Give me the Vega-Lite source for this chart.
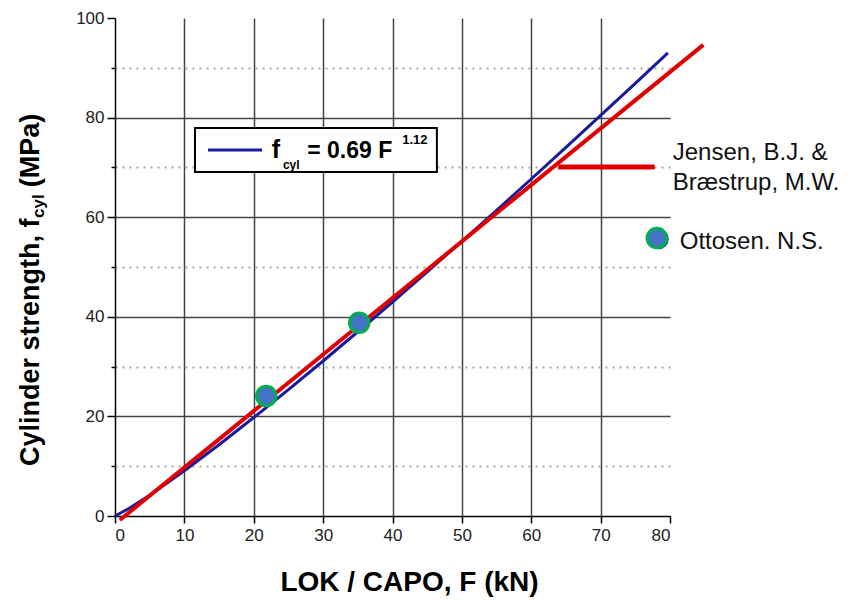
{
  "$schema": "https://vega.github.io/schema/vega-lite/v6.json",
  "width": 555,
  "height": 498,
  "autosize": "none",
  "padding": {"left": 115, "top": 18, "right": 185, "bottom": 84},
  "background": "white",
  "config": {"view": {"stroke": null}, "font": "Liberation Sans"},
  "datasets": {
    "fit": [
      {"F": 0, "fc": 0}, {"F": 2, "fc": 1.5}, {"F": 5, "fc": 4.18}, {"F": 10, "fc": 9.09},
      {"F": 15, "fc": 14.32}, {"F": 20, "fc": 19.77}, {"F": 25, "fc": 25.38}, {"F": 30, "fc": 31.13},
      {"F": 35, "fc": 37.0}, {"F": 40, "fc": 42.97}, {"F": 45, "fc": 49.03}, {"F": 50, "fc": 55.17},
      {"F": 55, "fc": 61.38}, {"F": 60, "fc": 67.67}, {"F": 65, "fc": 74.01}, {"F": 70, "fc": 80.43},
      {"F": 75, "fc": 86.89}, {"F": 79.7, "fc": 93.0}
    ],
    "jensen": [
      {"F": 0.7, "fc": -0.8}, {"F": 84.8, "fc": 94.6}
    ],
    "ottosen": [
      {"F": 21.8, "fc": 24.1}, {"F": 35.2, "fc": 38.8}
    ]
  },
  "layer": [
    {
      "data": {"name": "fit"},
      "mark": {"type": "line", "color": "#1a1a9c", "strokeWidth": 3},
      "encoding": {
        "x": {
          "field": "F", "type": "quantitative",
          "scale": {"domain": [0, 80], "nice": false, "zero": false},
          "axis": {
            "values": [0, 5, 10, 15, 20, 25, 30, 35, 40, 45, 50, 55, 60, 65, 70, 75, 80],
            "title": "LOK / CAPO, F (kN)",
            "titleFont": "Liberation Sans", "titleFontSize": 28, "titleFontWeight": "bold", "titleColor": "#000",
            "titleX": 294, "titleY": 74, "titleBaseline": "alphabetic", "titleAlign": "center",
            "labelExpr": "datum.value % 10 == 0 ? datum.label : ''",
            "labelFont": "Liberation Sans", "labelFontSize": 17, "labelColor": "#222",
            "labelPadding": 4,
            "tickSize": {"condition": {"test": "datum.value % 10 == 0", "value": 7}, "value": 5},
            "tickColor": "#000", "tickWidth": 1.5,
            "domainColor": "#000", "domainWidth": 1.5,
            "grid": true,
            "gridColor": {"condition": {"test": "datum.value % 10 == 0", "value": "#444"}, "value": "#a8a8a8"},
            "gridDash": {"condition": {"test": "datum.value % 10 == 0", "value": []}, "value": [2, 5]},
            "gridWidth": {"condition": {"test": "datum.value % 10 == 0", "value": 1.5}, "value": 2},
            "gridOpacity": {"condition": {"test": "datum.value == 0 || datum.value == 80", "value": 0}, "value": 1}
          }
        },
        "y": {
          "field": "fc", "type": "quantitative",
          "scale": {"domain": [0, 100], "nice": false, "zero": false},
          "axis": {
            "values": [0, 10, 20, 30, 40, 50, 60, 70, 80, 90, 100],
            "title": null,
            "labelExpr": "datum.value % 20 == 0 ? datum.label : ''",
            "labelFont": "Liberation Sans", "labelFontSize": 17, "labelColor": "#222",
            "labelPadding": 3,
            "tickSize": {"condition": {"test": "datum.value % 20 == 0", "value": 8}, "value": 4},
            "tickColor": "#000", "tickWidth": 1.5,
            "domainColor": "#000", "domainWidth": 1.5,
            "grid": true,
            "gridColor": {"condition": {"test": "datum.value % 20 == 0", "value": "#444"}, "value": "#a8a8a8"},
            "gridDash": {"condition": {"test": "datum.value % 20 == 0", "value": []}, "value": [2, 5]},
            "gridWidth": {"condition": {"test": "datum.value % 20 == 0", "value": 1.5}, "value": 2},
            "gridOpacity": {"condition": {"test": "datum.value == 0 || datum.value == 100", "value": 0}, "value": 1}
          }
        }
      }
    },
    {
      "data": {"name": "jensen"},
      "mark": {"type": "line", "color": "#e00000", "strokeWidth": 4},
      "encoding": {
        "x": {"field": "F", "type": "quantitative"},
        "y": {"field": "fc", "type": "quantitative"}
      }
    },
    {
      "data": {"name": "ottosen"},
      "mark": {"type": "point", "shape": "circle", "filled": true, "fill": "#4472c4", "stroke": "#00b050", "strokeWidth": 3, "size": 380, "opacity": 1},
      "encoding": {
        "x": {"field": "F", "type": "quantitative"},
        "y": {"field": "fc", "type": "quantitative"}
      }
    },
    {
      "data": {"values": [{}]},
      "mark": {"type": "rect", "fill": "white", "stroke": "#000", "strokeWidth": 2},
      "encoding": {
        "x": {"datum": 11.53, "type": "quantitative"},
        "x2": {"datum": 46.4},
        "y": {"datum": 77.9, "type": "quantitative"},
        "y2": {"datum": 69.1}
      }
    },
    {
      "data": {"values": [{}]},
      "mark": {"type": "rule", "color": "#1a1a9c", "strokeWidth": 3},
      "encoding": {
        "x": {"datum": 13.4, "type": "quantitative"},
        "x2": {"datum": 21.2},
        "y": {"datum": 73.5, "type": "quantitative"}
      }
    },
    {
      "data": {"values": [{}]},
      "mark": {"type": "text", "text": "f", "font": "Liberation Sans", "fontSize": 25, "fontWeight": "bold", "align": "left", "baseline": "alphabetic", "color": "#000"},
      "encoding": {"x": {"datum": 22.6, "type": "quantitative"}, "y": {"datum": 71.9, "type": "quantitative"}}
    },
    {
      "data": {"values": [{}]},
      "mark": {"type": "text", "text": "cyl", "font": "Liberation Sans", "fontSize": 12, "fontWeight": "bold", "align": "left", "baseline": "alphabetic", "color": "#000"},
      "encoding": {"x": {"datum": 24.2, "type": "quantitative"}, "y": {"datum": 69.6, "type": "quantitative"}}
    },
    {
      "data": {"values": [{}]},
      "mark": {"type": "text", "text": "= 0.69 F", "font": "Liberation Sans", "fontSize": 23, "fontWeight": "bold", "align": "left", "baseline": "alphabetic", "color": "#000"},
      "encoding": {"x": {"datum": 27.7, "type": "quantitative"}, "y": {"datum": 71.9, "type": "quantitative"}}
    },
    {
      "data": {"values": [{}]},
      "mark": {"type": "text", "text": "1.12", "font": "Liberation Sans", "fontSize": 13, "fontWeight": "bold", "align": "left", "baseline": "alphabetic", "color": "#000"},
      "encoding": {"x": {"datum": 41.4, "type": "quantitative"}, "y": {"datum": 74.6, "type": "quantitative"}}
    },
    {
      "data": {"values": [{}]},
      "mark": {"type": "rule", "color": "#e00000", "strokeWidth": 5},
      "encoding": {
        "x": {"datum": 63.9, "type": "quantitative"},
        "x2": {"datum": 77.8},
        "y": {"datum": 70.1, "type": "quantitative"}
      }
    },
    {
      "data": {"values": [{}]},
      "mark": {"type": "text", "text": "Jensen, B.J. &", "font": "Liberation Sans", "fontSize": 24, "align": "left", "baseline": "alphabetic", "color": "#111"},
      "encoding": {"x": {"datum": 80.4, "type": "quantitative"}, "y": {"datum": 71.5, "type": "quantitative"}}
    },
    {
      "data": {"values": [{}]},
      "mark": {"type": "text", "text": "Bræstrup, M.W.", "font": "Liberation Sans", "fontSize": 24, "align": "left", "baseline": "alphabetic", "color": "#111"},
      "encoding": {"x": {"datum": 80.4, "type": "quantitative"}, "y": {"datum": 65.5, "type": "quantitative"}}
    },
    {
      "data": {"values": [{}]},
      "mark": {"type": "point", "shape": "circle", "filled": true, "fill": "#22408a", "size": 420, "opacity": 1},
      "encoding": {"x": {"datum": 78.35, "type": "quantitative"}, "y": {"datum": 55.6, "type": "quantitative"}}
    },
    {
      "data": {"values": [{}]},
      "mark": {"type": "point", "shape": "circle", "filled": true, "fill": "#4472c4", "stroke": "#00b050", "strokeWidth": 3, "size": 380, "opacity": 1},
      "encoding": {"x": {"datum": 78.1, "type": "quantitative"}, "y": {"datum": 55.8, "type": "quantitative"}}
    },
    {
      "data": {"values": [{}]},
      "mark": {"type": "text", "text": "Ottosen. N.S.", "font": "Liberation Sans", "fontSize": 24, "align": "left", "baseline": "alphabetic", "color": "#111"},
      "encoding": {"x": {"datum": 81.4, "type": "quantitative"}, "y": {"datum": 53.6, "type": "quantitative"}}
    },
    {
      "data": {"values": [{}]},
      "mark": {"type": "text", "text": "Cylinder strength, f", "font": "Liberation Sans", "fontSize": 27, "fontWeight": "bold", "angle": 270, "align": "left", "baseline": "alphabetic", "color": "#000"},
      "encoding": {"x": {"datum": -10.95, "type": "quantitative"}, "y": {"datum": 10.04, "type": "quantitative"}}
    },
    {
      "data": {"values": [{}]},
      "mark": {"type": "text", "text": "cyl", "font": "Liberation Sans", "fontSize": 17, "fontWeight": "bold", "angle": 270, "align": "left", "baseline": "alphabetic", "color": "#000"},
      "encoding": {"x": {"datum": -10.2, "type": "quantitative"}, "y": {"datum": 59.84, "type": "quantitative"}}
    },
    {
      "data": {"values": [{}]},
      "mark": {"type": "text", "text": "(MPa)", "font": "Liberation Sans", "fontSize": 27, "fontWeight": "bold", "angle": 270, "align": "left", "baseline": "alphabetic", "color": "#000"},
      "encoding": {"x": {"datum": -10.95, "type": "quantitative"}, "y": {"datum": 66.0, "type": "quantitative"}}
    }
  ]
}
